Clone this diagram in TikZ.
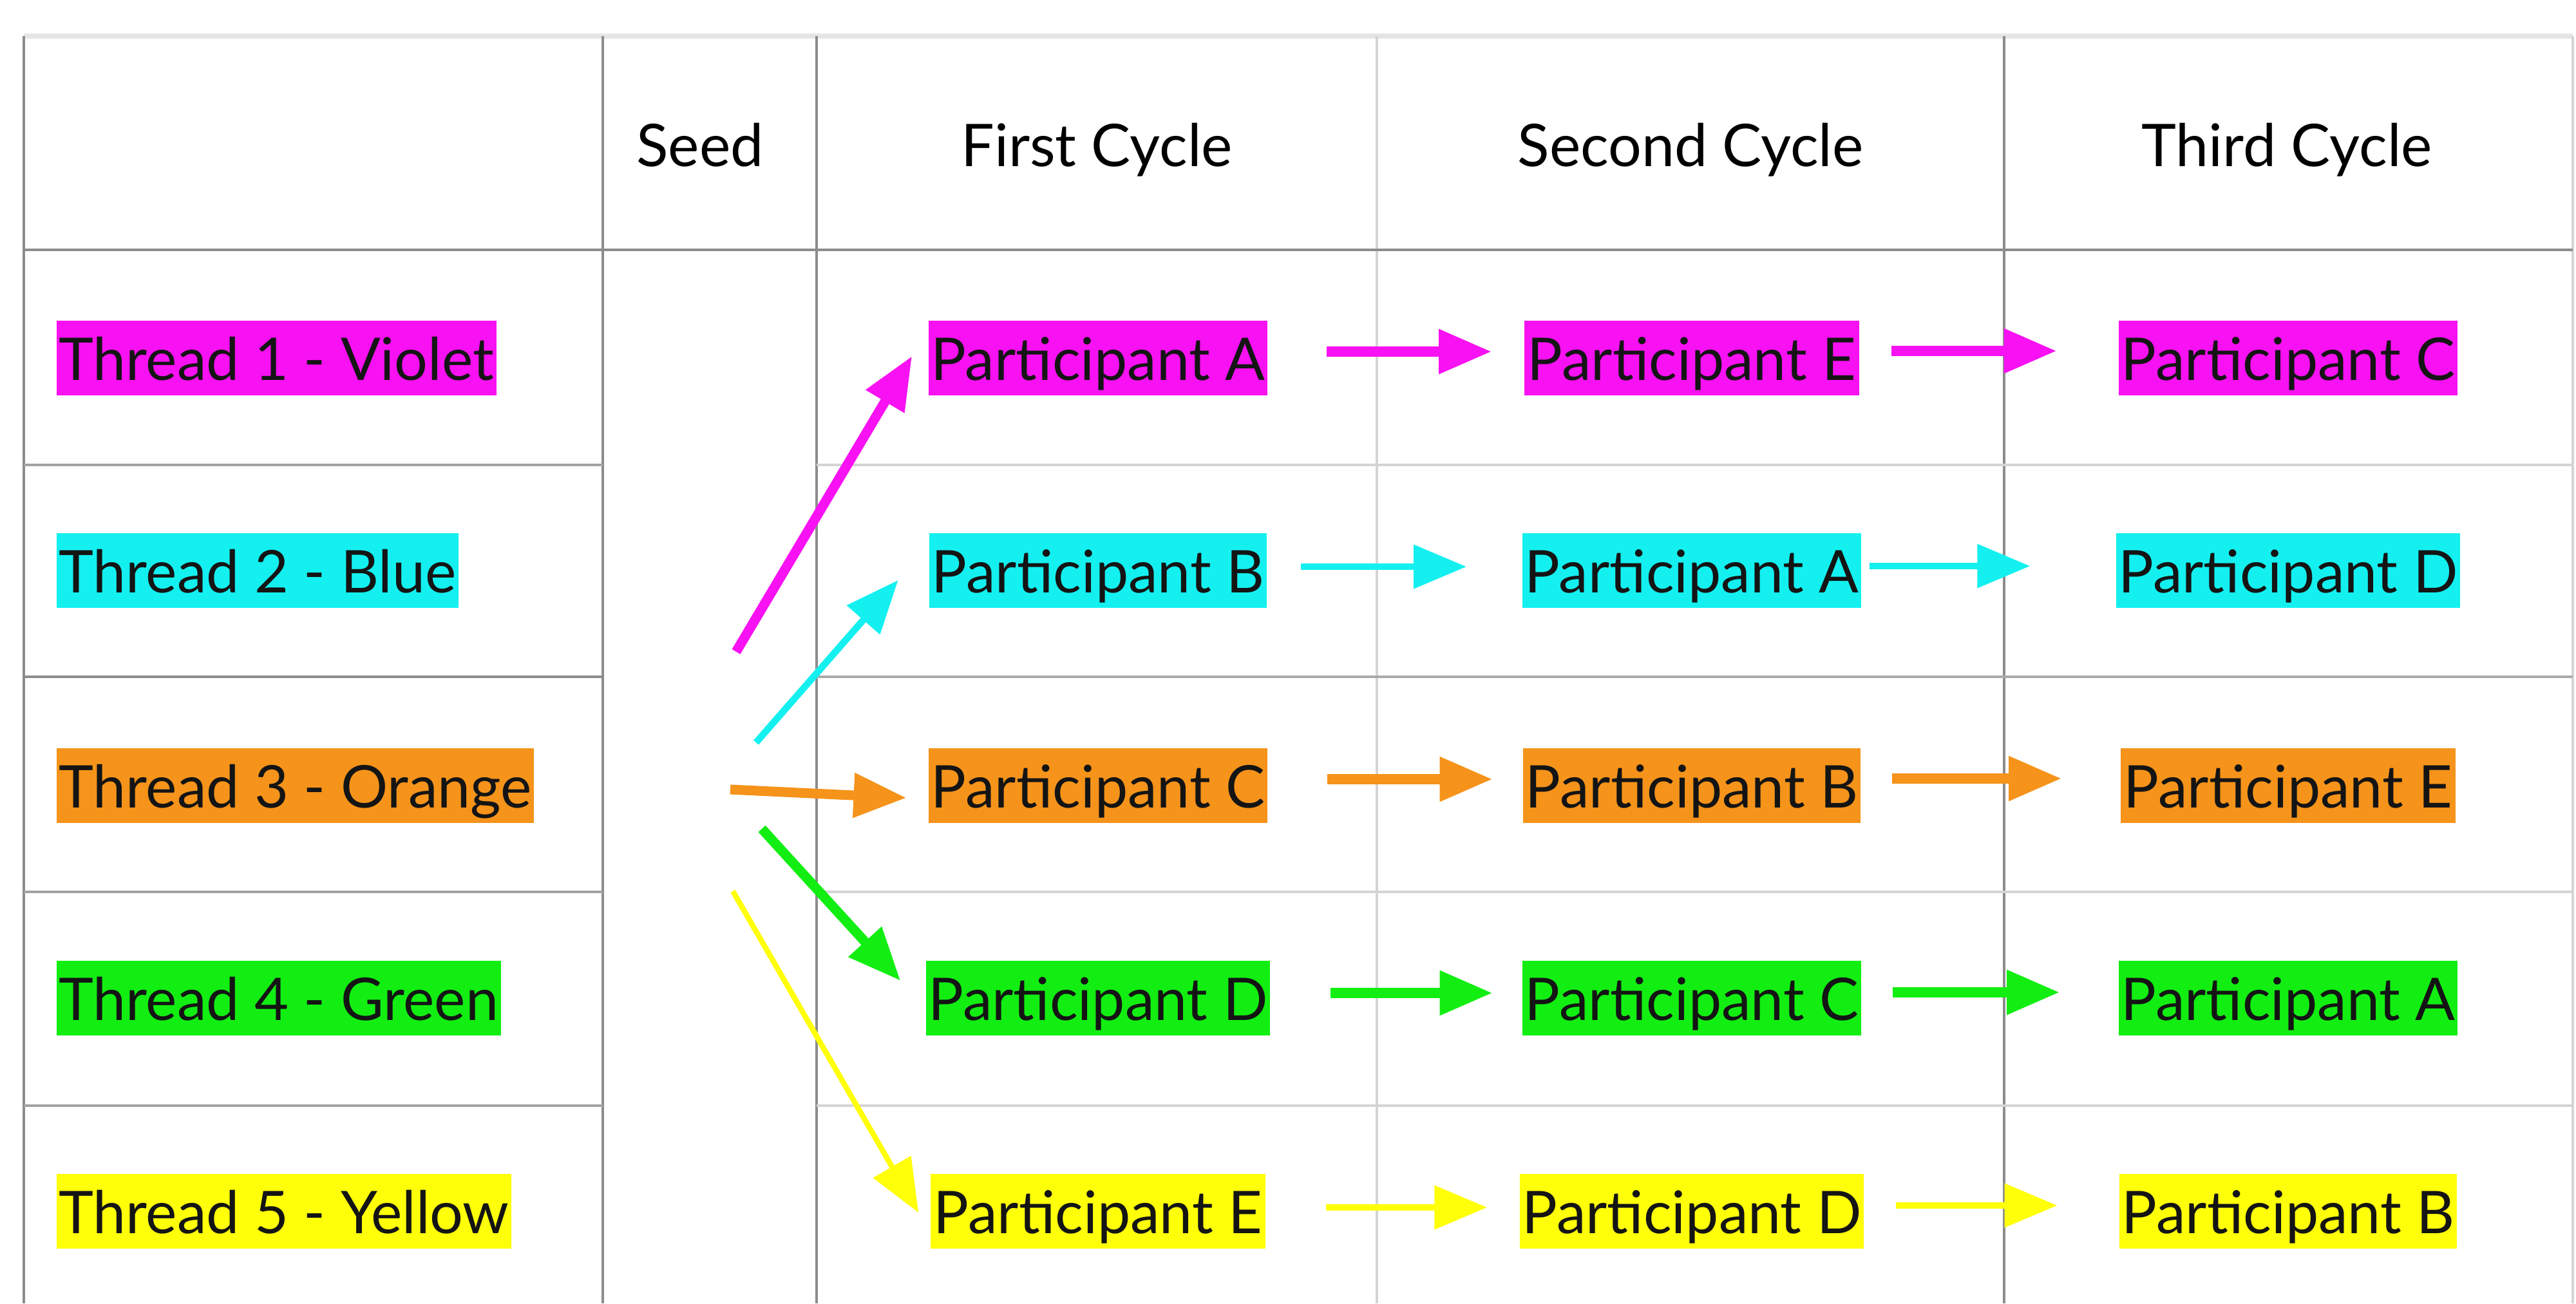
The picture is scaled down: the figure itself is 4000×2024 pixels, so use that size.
\documentclass[tikz,border=0pt]{standalone}
\usepackage{fontspec}
\setmainfont{Lato}
\usetikzlibrary{arrows.meta,calc}
\definecolor{cViolet}{HTML}{F811F2}
\definecolor{cBlue}{HTML}{14F0F0}
\definecolor{cOrange}{HTML}{F5931A}
\definecolor{cGreen}{HTML}{12EE12}
\definecolor{cYellow}{HTML}{FFFF0A}
\definecolor{gDark}{HTML}{8C8C8C}
\definecolor{gLight}{HTML}{D4D4D4}
\begin{document}
\begin{tikzpicture}[x=0.01cm,y=-0.01cm,
  gridD/.style={draw=gDark, line width=0.9pt},
  gridL/.style={draw=gLight, line width=0.9pt},
  hl/.style={inner xsep=1pt, inner ysep=0pt, text height=0.92cm, text depth=0.23cm,
             font=\fontsize{26}{30}\selectfont, text=black!92},
  part/.style={hl, minimum width=5.2cm},
  thr/.style={hl, anchor=west},
  head/.style={font=\fontsize{26}{30}\selectfont, anchor=base, inner sep=0pt},
  arr/.style={-{Triangle[length=0.82cm,width=0.66cm]}, line width=4.3pt},
  thin/.style={line width=3pt},
]
\fill[white] (0,0) rectangle (4000,2024);
\useasboundingbox (0,0) rectangle (4000,2024);

% table grid
\draw[line width=2.4pt, black!10] (37,56) -- (3995,56);
\draw[gridD] (37,56) -- (37,2024);
\draw[gridD] (936,56) -- (936,2024);
\draw[gridD] (1268,56) -- (1268,2024);
\draw[gridL] (2138,56) -- (2138,2024);
\draw[gridD] (3112,56) -- (3112,2024);
\draw[gridL] (3995,56) -- (3995,2024);
\draw[gridD] (37,388) -- (3995,388);
\foreach \yy in {722,1385,1717}{
  \draw[gridD, draw=gDark!80] (37,\yy) -- (936,\yy);
  \draw[gridL] (1268,\yy) -- (3995,\yy);
}
\draw[gridD] (37,1051) -- (936,1051);
\draw[gridL, draw=gLight!80!black] (1268,1051) -- (3995,1051);

% headers
\node[head] (hseed) at (1087,258) {Seed};
\node[head] (hfirst) at (1703,258) {First Cycle};
\node[head] (hsecond) at (2625,258) {Second Cycle};
\node[head] (hthird) at (3551,258) {Third Cycle};

% thread labels
\node[thr, fill=cViolet] (t1) at (87,556) {Thread 1 - Violet};
\node[thr, fill=cBlue]   (t2) at (87,886) {Thread 2 - Blue};
\node[thr, fill=cOrange] (t3) at (87,1220) {Thread 3 - Orange};
\node[thr, fill=cGreen]  (t4) at (87,1550) {Thread 4 - Green};
\node[thr, fill=cYellow] (t5) at (87,1881) {Thread 5 - Yellow};

% participants
\node[part, fill=cViolet] (p11) at (1705,556) {Participant A};
\node[part, fill=cViolet] (p12) at (2627,556) {Participant E};
\node[part, fill=cViolet] (p13) at (3553,556) {Participant C};
\node[part, fill=cBlue] (p21) at (1705,886) {Participant B};
\node[part, fill=cBlue] (p22) at (2627,886) {Participant A};
\node[part, fill=cBlue] (p23) at (3553,886) {Participant D};
\node[part, fill=cOrange] (p31) at (1705,1220) {Participant C};
\node[part, fill=cOrange] (p32) at (2627,1220) {Participant B};
\node[part, fill=cOrange] (p33) at (3553,1220) {Participant E};
\node[part, fill=cGreen] (p41) at (1705,1550) {Participant D};
\node[part, fill=cGreen] (p42) at (2627,1550) {Participant C};
\node[part, fill=cGreen] (p43) at (3553,1550) {Participant A};
\node[part, fill=cYellow] (p51) at (1705,1881) {Participant E};
\node[part, fill=cYellow] (p52) at (2627,1881) {Participant D};
\node[part, fill=cYellow] (p53) at (3553,1881) {Participant B};

% seed starting points
\coordinate (s1) at (1143,1012);
\coordinate (s2) at (1174,1153);
\coordinate (s3) at (1134,1226);
\coordinate (s4) at (1183,1287);
\coordinate (s5) at (1138,1384);

% seed arrows
\draw[arr, cViolet] (s1) -- ($(p11.west)+(-25,-3)$);
\draw[arr, cBlue, thin] (s2) -- ($(p21.west)+(-48,15)$);
\draw[arr, cOrange] (s3) -- ($(p31.west)+(-34,19)$);
\draw[arr, cGreen] (s4) -- ($(p41.west)+(-39,-27)$);
\draw[arr, cYellow, line width=2.4pt] (s5) -- ($(p51.west)+(-18,2)$);

% cycle arrows
\draw[arr, cViolet] ($(p11.east)+(91,-10)$) -- ($(p12.west)+(-50,-10)$);
\draw[arr, cViolet] ($(p12.east)+(49,-11)$) -- ($(p13.west)+(-96,-11)$);
\draw[arr, cBlue, thin] ($(p21.east)+(53,-6)$) -- ($(p22.west)+(-86,-6)$);
\draw[arr, cBlue, thin] ($(p22.east)+(12,-7)$) -- ($(p23.west)+(-133,-7)$);
\draw[arr, cOrange] ($(p31.east)+(93,-10)$) -- ($(p32.west)+(-47,-10)$);
\draw[arr, cOrange] ($(p32.east)+(49,-11)$) -- ($(p33.west)+(-91,-11)$);
\draw[arr, cGreen] ($(p41.east)+(93,-8)$) -- ($(p42.west)+(-46,-8)$);
\draw[arr, cGreen] ($(p42.east)+(49,-9)$) -- ($(p43.west)+(-91,-9)$);
\draw[arr, cYellow, thin] ($(p51.east)+(93,-6)$) -- ($(p52.west)+(-50,-6)$);
\draw[arr, cYellow, thin] ($(p52.east)+(49,-9)$) -- ($(p53.west)+(-96,-9)$);
\end{tikzpicture}
\end{document}
